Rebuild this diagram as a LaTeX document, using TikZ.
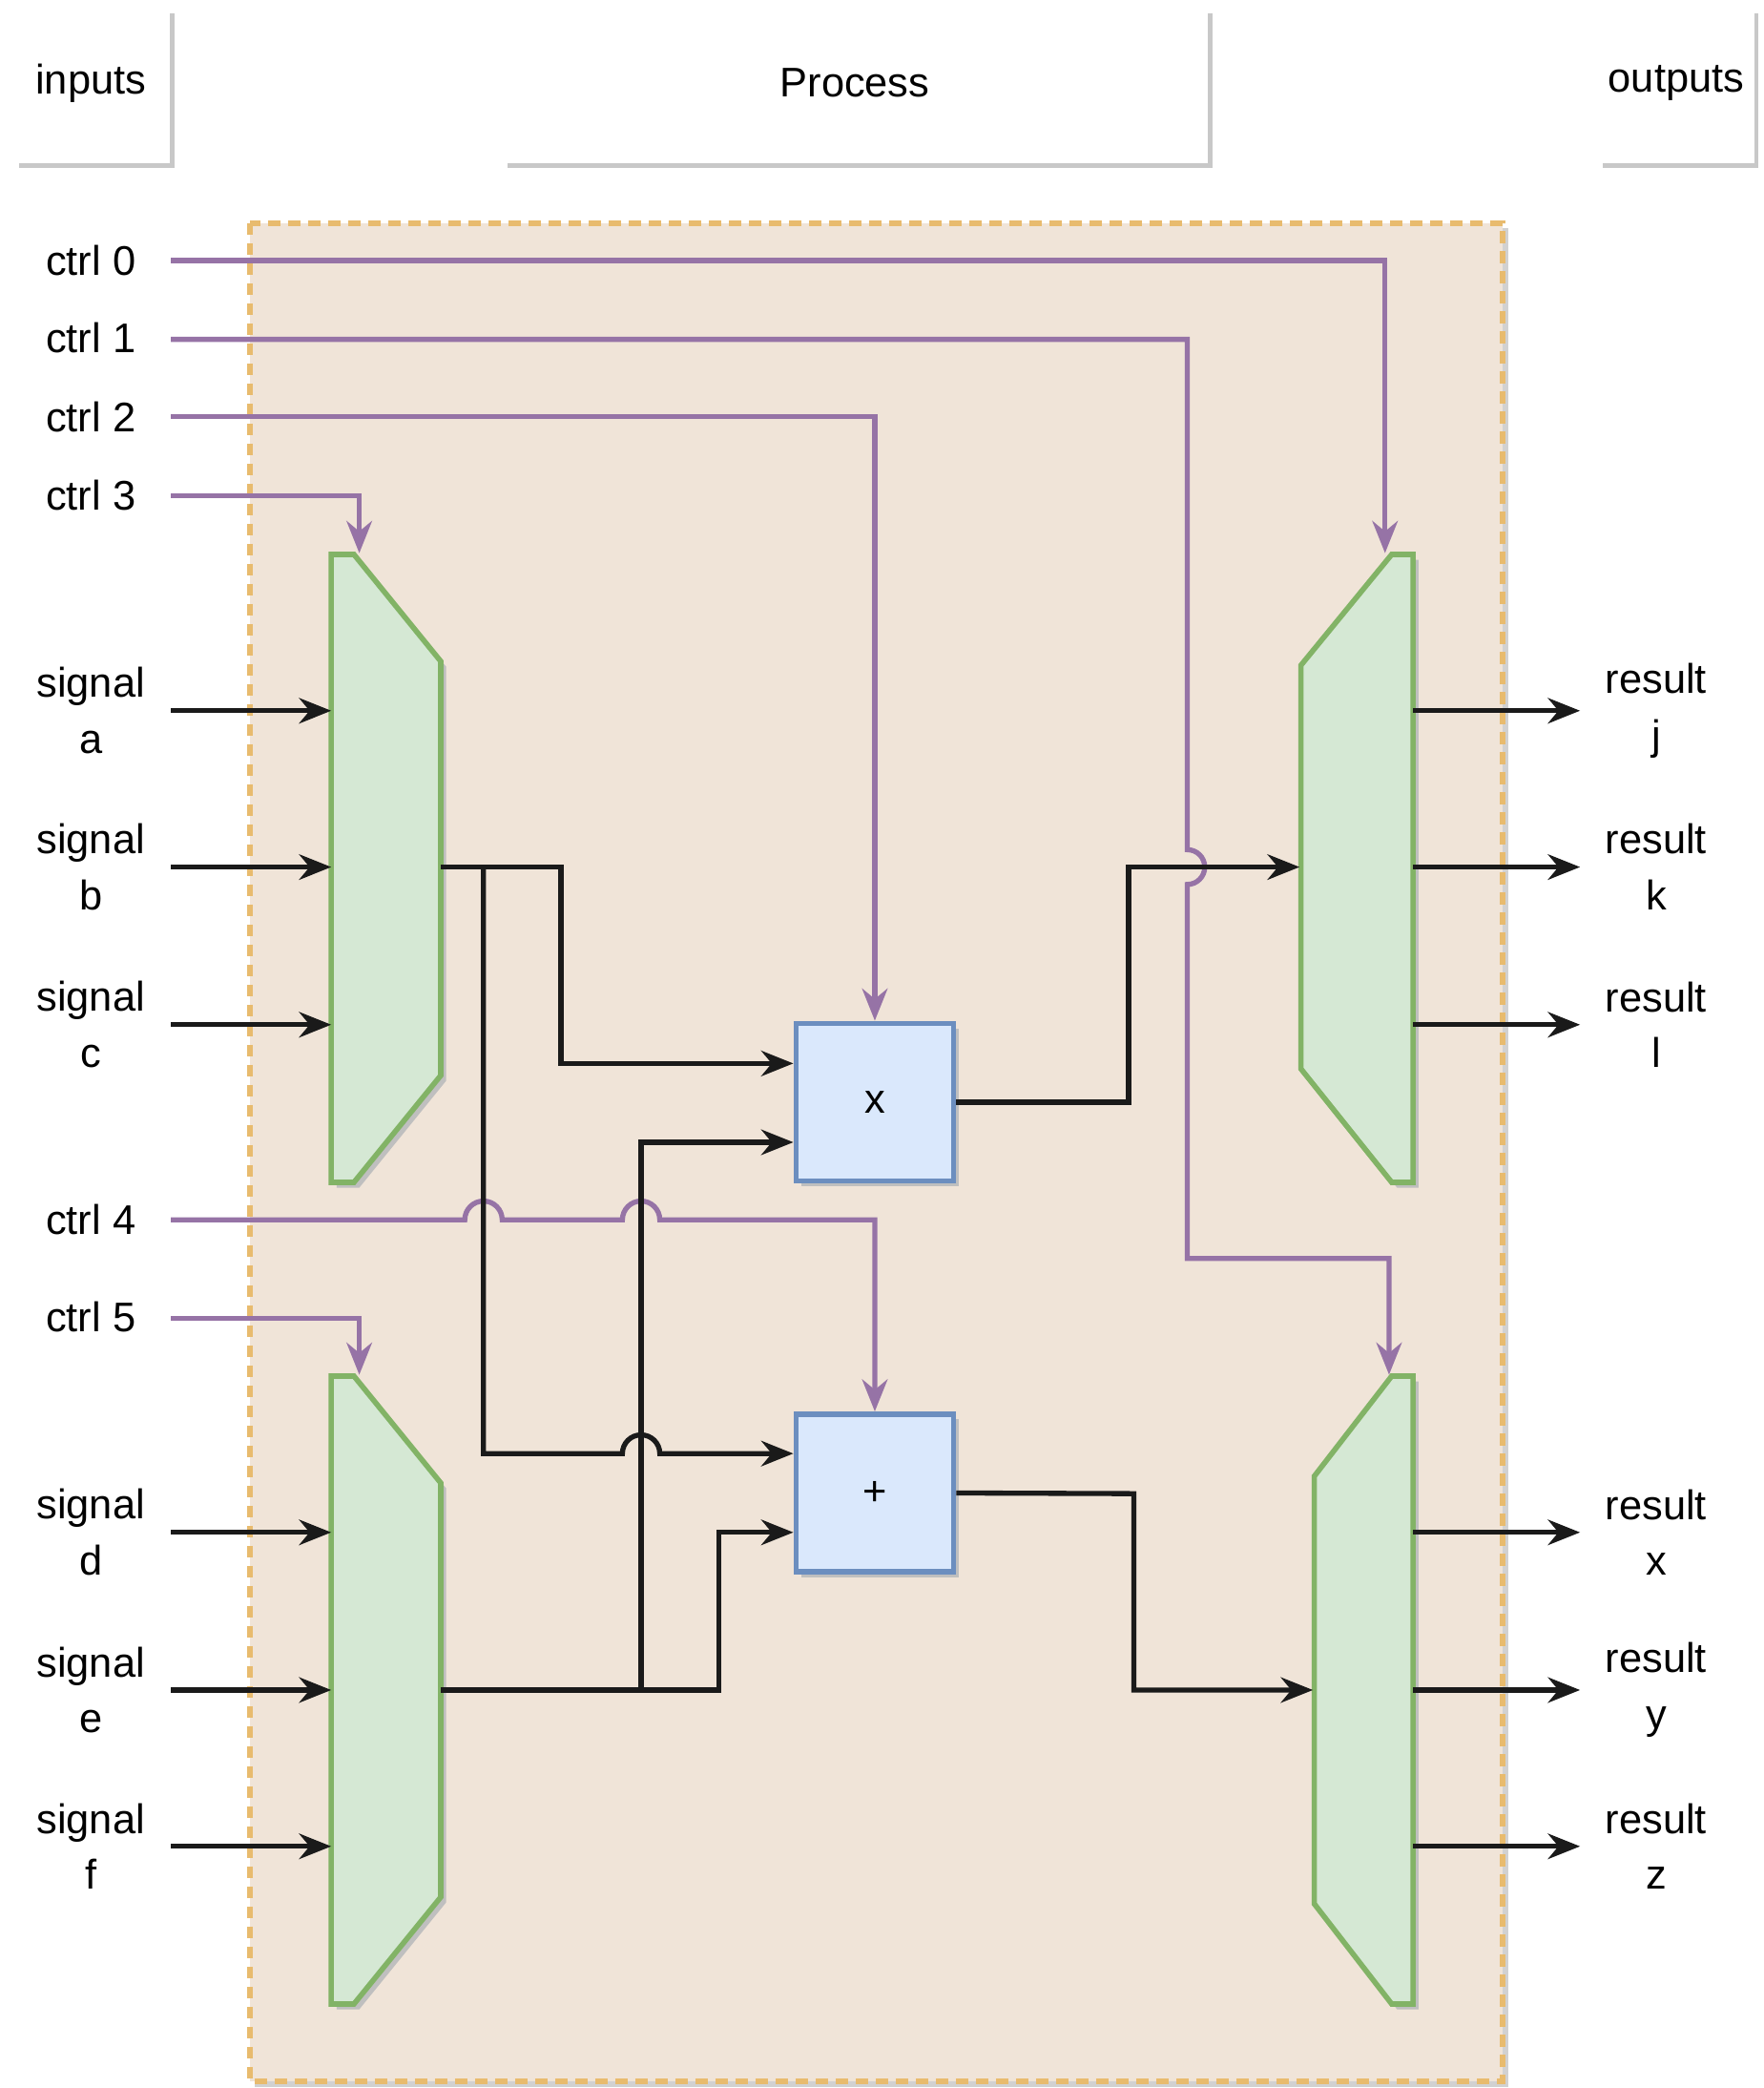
\documentclass[tikz,border=0pt]{standalone}
\usepackage{fontspec}
\setmainfont{Liberation Sans}
\usetikzlibrary{arrows.meta}
\definecolor{bgfill}{HTML}{F0E4D8}
\definecolor{bgline}{HTML}{E8BB6E}
\definecolor{gfill}{HTML}{D5E8D4}
\definecolor{gline}{HTML}{82B366}
\definecolor{bfill}{HTML}{DAE8FC}
\definecolor{bline}{HTML}{6C8EBF}
\definecolor{purp}{HTML}{9673A6}
\definecolor{hdr}{HTML}{C8C8C8}
\definecolor{wire}{HTML}{1A1A1A}
\begin{document}
\begin{tikzpicture}[x=1pt,y=-1pt,
  txt/.style={font=\fontsize{31}{42}\selectfont, align=center, inner sep=0},
  hdrline/.style={hdr, line width=3.5pt},
  mux/.style={fill=gfill, draw=gline, line width=4pt, line join=miter},
  op/.style={fill=bfill, draw=bline, line width=4pt, minimum size=118pt, inner sep=0, font=\fontsize{31}{40}\selectfont},
  shadow/.style={fill=black!25, draw=none},
  ar/.style={-{Stealth[length=24pt,width=19pt]}},
  bw/.style={wire, line width=3.8pt, line join=miter},
  pw/.style={purp, line width=3.8pt, line join=miter}]
\useasboundingbox (0,0) rectangle (1320.7,1562.9);
% headers
\node[txt] (hin) at (68,62) {inputs};
\node[txt] (hpr) at (640,62) {Process};
\node[txt] (hout) at (1255,62) {outputs};
\draw[hdrline] (129,10) -- (129,124) -- (14,124);
\draw[hdrline] (906,10) -- (906,124) -- (380,124);
\draw[hdrline] (1315,10) -- (1315,124) -- (1200,124);
% background
\fill[black!18] (191,171) rectangle (1129,1562);
\draw[fill=bgfill, draw=bgline, line width=4pt, dash pattern=on 9pt off 6pt] (187,167) rectangle (1125,1558);
% shadows
\begin{scope}[shift={(4,4)}]
 \fill[shadow] (248,415)--(265,415)--(330,495)--(330,805)--(265,885)--(248,885)--cycle;
 \fill[shadow] (248,1030)--(265,1030)--(330,1110)--(330,1420)--(265,1500)--(248,1500)--cycle;
 \fill[shadow] (1058,415)--(1042,415)--(974,498)--(974,800)--(1042,885)--(1058,885)--cycle;
 \fill[shadow] (1058,1030)--(1042,1030)--(984,1105)--(984,1425)--(1042,1500)--(1058,1500)--cycle;
 \fill[shadow] (596,766) rectangle (714,884);
 \fill[shadow] (596,1058) rectangle (714,1177);
\end{scope}
% muxes
\draw[mux] (248,415)--(265,415)--(330,495)--(330,805)--(265,885)--(248,885)--cycle;
\draw[mux] (248,1030)--(265,1030)--(330,1110)--(330,1420)--(265,1500)--(248,1500)--cycle;
\draw[mux] (1058,415)--(1042,415)--(974,498)--(974,800)--(1042,885)--(1058,885)--cycle;
\draw[mux] (1058,1030)--(1042,1030)--(984,1105)--(984,1425)--(1042,1500)--(1058,1500)--cycle;
\node[op] (mul) at (655,825) {x};
\node[op] (add) at (655,1117.5) {+};
% labels
\foreach \n/\y/\t in {c0/195/ctrl 0,c1/253/ctrl 1,c2/312/ctrl 2,c3/371/ctrl 3,c4/913/ctrl 4,c5/986/ctrl 5}
  \node[txt] (\n) at (68,\y) {\t};
\foreach \n/\y/\t in {sa/532/a,sb/649/b,sc/767/c,sd/1147/d,se/1265/e,sf/1382/f}{
  \node[txt] (\n) at (68,\y) {signal\\\t};
  \coordinate (\n i) at (248,\y);
  \draw[bw,ar] (128,\y) -- (\n i);}
\foreach \n/\y/\t in {rj/532/j,rk/649/k,rl/767/l,rx/1147/x,ry/1265/y,rz/1382/z}{
  \node[txt] (\n) at (1240,\y) {result\\\t};
  \coordinate (\n o) at (1183,\y);
  \draw[bw,ar] (1058,\y) -- (\n o);}
% purple control lines
\coordinate (m1c) at (1037,414); \coordinate (m2c) at (269,414);
\coordinate (m3c) at (269,1029); \coordinate (m4c) at (1040,1029);
\draw[pw,ar] (128,195) -- (1037,195) -- (m1c);
\draw[pw,ar] (128,254) -- (889,254) -- (889,636) arc[start angle=-90,end angle=90,radius=13] -- (889,942) -- (1040,942) -- (m4c);
\draw[pw,ar] (128,312) -- (655,312) -- (mul.north);
\draw[pw,ar] (128,371) -- (269,371) -- (m2c);
\draw[pw,ar] (128,913) -- (348,913) arc[start angle=180,end angle=360,radius=14] -- (466,913) arc[start angle=180,end angle=360,radius=14] -- (655,913) -- (add.north);
\draw[pw,ar] (128,987) -- (269,987) -- (m3c);
% black wires
\coordinate (mo1) at (330,649); \coordinate (mo2) at (330,1265);
\coordinate (m1i) at (973,649); \coordinate (m4i) at (983,1265);
\draw[bw,ar] (mo1) -- (420,649) -- (420,796) -- (mul.west|-0,796);
\draw[bw,ar] (362,649) -- (362,1088) -- (466,1088) arc[start angle=180,end angle=360,radius=14] -- (add.west|-0,1088);
\draw[bw,ar] (mo2) -- (538,1265) -- (538,1147) -- (add.west|-0,1147);
\draw[bw,ar] (480,1265) -- (480,855) -- (mul.west|-0,855);
\draw[bw,ar] (mul.east) -- (845,825) -- (845,649) -- (m1i);
\draw[bw,ar] (add.east) -- (849,1118) -- (849,1265) -- (m4i);
\end{tikzpicture}
\end{document}
